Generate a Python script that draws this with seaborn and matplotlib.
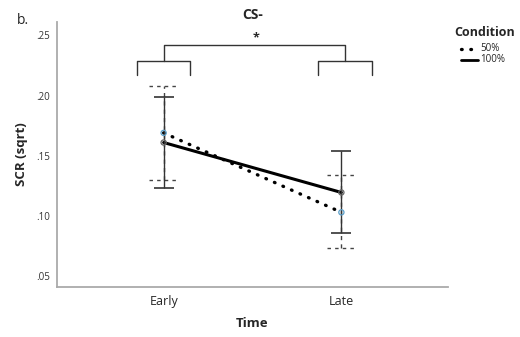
import pandas as pd
import matplotlib.pyplot as plt
import seaborn as sns

# values
times = ['Early', 'Late']
conditions = ['50%', '100%']
mean_50 = [0.169, 0.103]
mean_100 = [0.161, 0.1195]
low_50 = [0.130, 0.0737]
high_50 = [0.208, 0.134]
low_100 = [0.1235, 0.0862]
high_100 = [0.199, 0.1536]
y_ticks = [0.05, 0.10, 0.15, 0.20, 0.25]
y_tick_labels = ['.05', '.10', '.15', '.20', '.25']

data = pd.DataFrame({
    'Time': times * 2,
    'Condition': [conditions[0]] * 2 + [conditions[1]] * 2,
    'SCR': mean_50 + mean_100,
})

sns.set_style('white')
plt.rcParams['font.family'] = ['Open Sans', 'DejaVu Sans']

fig = plt.figure(figsize=(5.2, 3.37), dpi=100)
ax = fig.add_axes([0.1096, 0.1484, 0.752, 0.786])

palette = {'50%': 'black', '100%': 'black'}
sns.lineplot(data=data, x='Time', y='SCR', hue='Condition', hue_order=conditions,
             palette=palette, linewidth=2.2, errorbar=None, ax=ax, legend=False, sort=False)
dotted = (0, (0.2, 2.6))
ax.lines[0].set_linestyle(dotted)
ax.lines[0].set_dash_capstyle('round')
ax.lines[0].set_linewidth(2.4)

# error bars
xpos = [0, 1]
for mean, lo, hi, dashed, col in [(mean_50, low_50, high_50, True, '#444444'),
                                  (mean_100, low_100, high_100, False, '#333333')]:
    err = [[m - l for m, l in zip(mean, lo)], [h - m for m, h in zip(mean, hi)]]
    eb = ax.errorbar(xpos, mean, yerr=err, fmt='none', ecolor=col, elinewidth=1,
                     capsize=7, capthick=1.2)
    if dashed:
        eb[2][0].set_linestyle((0, (3, 3)))
        for c in eb[1]:
            c.set_visible(False)
        for x in xpos:
            for y in (lo[x], hi[x]):
                ax.plot([x - 0.08, x + 0.08], [y, y], color=col, lw=1,
                        linestyle=(0, (2.5, 3)))

# markers
ax.scatter(xpos, mean_50, s=14, facecolors='none', edgecolors='#5b9fc9', linewidths=0.9, zorder=5)
ax.scatter(xpos, mean_100, s=14, facecolors='none', edgecolors='#666666', linewidths=0.9, zorder=5)

# significance brackets
br_top, br_mid, br_low = 0.2417, 0.2284, 0.2168
half = 0.15
right_c = 1.02
ax.plot([0, 0, right_c, right_c], [br_mid, br_top, br_top, br_mid], color='#333333', lw=1)
for c in (0, right_c):
    ax.plot([c - half, c - half, c + half, c + half], [br_low, br_mid, br_mid, br_low],
            color='#333333', lw=1)
ax.text(0.52, br_top + 0.001, '*', ha='center', va='bottom', fontsize=9, fontweight='bold')

ax.set_xlim(-0.6, 1.6)
ax.set_ylim(0.041, 0.261)
ax.set_yticks(y_ticks)
ax.set_yticklabels(y_tick_labels)
ax.tick_params(axis='both', length=0)
ax.tick_params(axis='y', labelsize=7, pad=5, colors='#333333')
ax.tick_params(axis='x', labelsize=9, pad=6)
sns.despine(ax=ax)
for s in ('left', 'bottom'):
    ax.spines[s].set_color('#aaaaaa')
    ax.spines[s].set_linewidth(1.3)

ax.set_xlabel('Time', fontsize=9.5, fontweight='bold', labelpad=6)
ax.set_ylabel('SCR (sqrt)', fontsize=9.5, fontweight='bold', labelpad=6)
ax.set_title('CS-', fontsize=10, fontweight='bold', pad=2)
fig.text(0.032, 0.94, 'b.', fontsize=10, va='center')

# legend
fig.text(0.873, 0.905, 'Condition', fontsize=9, fontweight='bold', va='center')
fig.lines.append(plt.Line2D([0.887, 0.92], [0.855, 0.855], transform=fig.transFigure,
                            color='black', lw=2.4, linestyle=dotted, dash_capstyle='round'))
fig.lines.append(plt.Line2D([0.887, 0.92], [0.822, 0.822], transform=fig.transFigure,
                            color='black', lw=2))
fig.text(0.924, 0.855, '50%', fontsize=7, va='center')
fig.text(0.924, 0.822, '100%', fontsize=7, va='center')

fig.savefig('out.png', dpi=100)
